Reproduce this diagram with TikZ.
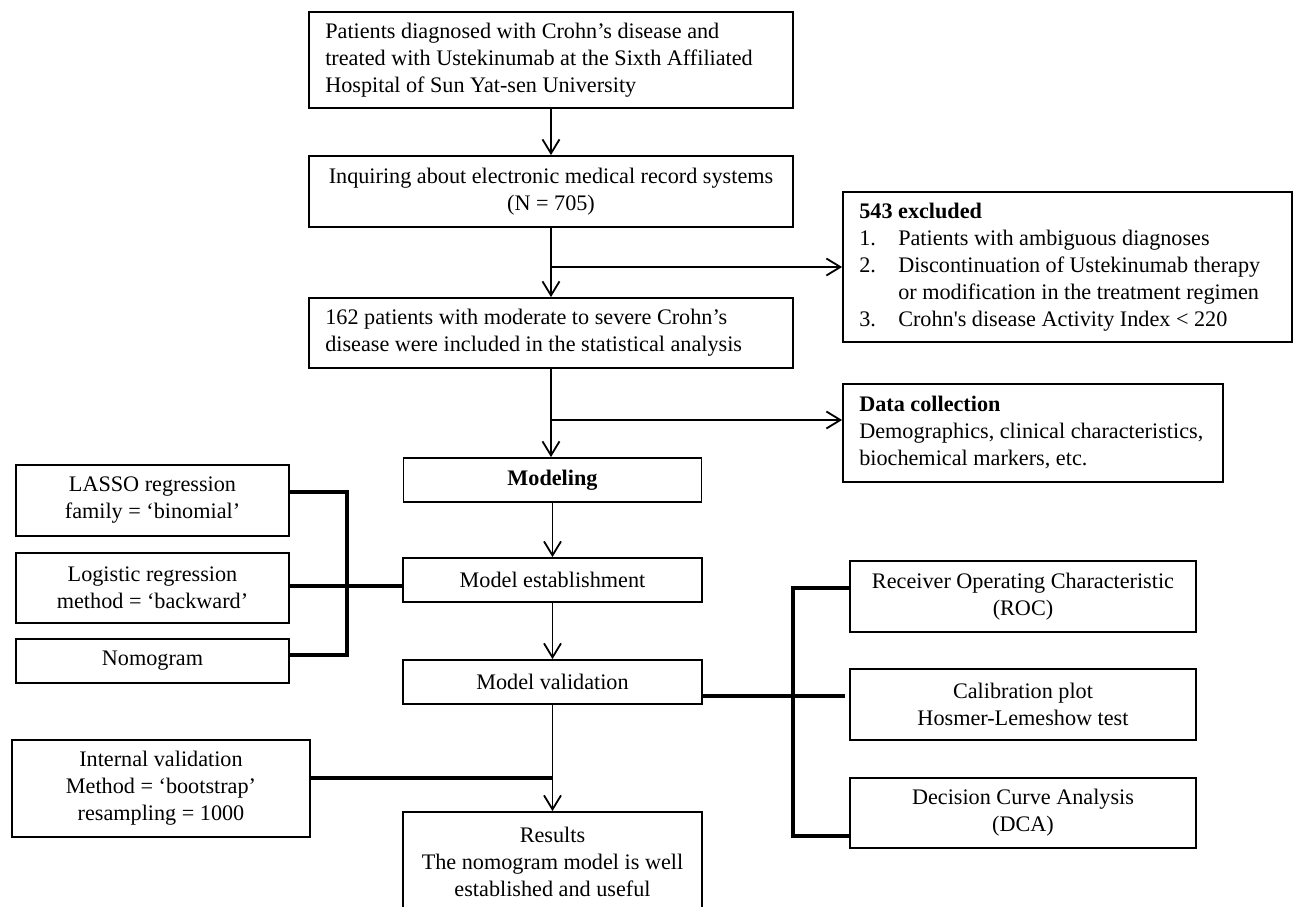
\documentclass[tikz,border=0pt]{standalone}
\usepackage{fontspec}
\setmainfont{Liberation Serif}
\usetikzlibrary{arrows.meta}
\begin{document}
\begin{tikzpicture}[x=1pt,y=-1pt,
  txt/.style={font=\fontsize{22.2}{27}\selectfont, inner sep=0pt},
  box/.style={draw, line width=1.8pt, inner sep=0pt, txt},
  arr/.style={line width=1.8pt, -{Straight Barb[length=14pt,width=17pt]}},
  thk/.style={line width=4pt},
  thn/.style={line width=1.8pt}]
\useasboundingbox (0,0) rectangle (1294,907);
\clip (0,0) rectangle (1294,907);
\fill[white] (0,0) rectangle (1294,907);

% main column
\node[box, minimum width=484pt, minimum height=96pt] (n1) at (551,60) {};
\node[txt, anchor=west, align=left] (n1t) at ([xshift=17pt]n1.west)
  {Patients diagnosed with Crohn’s disease and\\treated with Ustekinumab at the Sixth Affiliated\\Hospital of Sun Yat-sen University};
\node[box, align=center, minimum width=484pt, minimum height=71pt] (n2) at (551,191.5)
  {Inquiring about electronic medical record systems\\(N = 705)};
\node[box, minimum width=484pt, minimum height=70pt] (n3) at (551,333) {};
\node[txt, anchor=west, align=left] (n3t) at ([xshift=17pt]n3.west)
  {162 patients with moderate to severe Crohn’s\\disease were included in the statistical analysis};

% side boxes right (top)
\node[box, minimum width=449pt, minimum height=150pt] (ex) at (1067.5,267) {};
\node[txt, anchor=west, align=left] (ext) at ([xshift=17pt]ex.west)
  {\textbf{543 excluded}\\
   \makebox[39pt][l]{1.}Patients with ambiguous diagnoses\\
   \makebox[39pt][l]{2.}Discontinuation of Ustekinumab therapy\\
   \hspace*{39pt}or modification in the treatment regimen\\
   \makebox[39pt][l]{3.}Crohn\textquotesingle s disease Activity Index < 220};
\node[box, minimum width=380pt, minimum height=98pt] (dc) at (1033,433) {};
\node[txt, anchor=west, align=left] (dct) at ([xshift=17pt]dc.west)
  {\textbf{Data collection}\\Demographics, clinical characteristics,\\biochemical markers, etc.};

% modelling column
\node[box, align=center, minimum width=298pt, minimum height=44pt] (mod) at (552.5,480) {\textbf{Modeling}};
\node[box, align=center, minimum width=299pt, minimum height=44pt] (est) at (552.5,580) {Model establishment};
\node[box, align=center, minimum width=299pt, minimum height=44pt] (val) at (552.5,682) {Model validation};
\node[box, align=center, minimum width=299pt, minimum height=100pt] (res) at (552.5,862)
  {Results\\The nomogram model is well\\established and useful};

% left boxes
\node[box, align=center, minimum width=273pt, minimum height=71pt] (lasso) at (152.5,500.5)
  {LASSO regression\\family = ‘binomial’};
\node[box, align=center, minimum width=273pt, minimum height=70pt] (logit) at (152.5,588)
  {Logistic regression\\method = ‘backward’};
\node[box, align=center, minimum width=273pt, minimum height=44pt] (nomo) at (152.5,661) {Nomogram};
\node[box, align=center, minimum width=298pt, minimum height=97pt] (intv) at (161,788.5)
  {Internal validation\\Method = ‘bootstrap’\\resampling = 1000};

% right boxes
\node[box, align=center, minimum width=346pt, minimum height=71pt] (roc) at (1023,596.5)
  {Receiver Operating Characteristic\\(ROC)};
\node[box, align=center, minimum width=346pt, minimum height=71pt] (cal) at (1023,704.5)
  {Calibration plot\\Hosmer-Lemeshow test};
\node[box, align=center, minimum width=346pt, minimum height=70pt] (dca) at (1023,813)
  {Decision Curve Analysis\\(DCA)};

% coordinates
\coordinate (b1) at (551,267);
\coordinate (b2) at (551,420);
\coordinate (lb1) at (347,492);
\coordinate (lb2) at (347,655);
\coordinate (lg) at (347,586);
\coordinate (rb1) at (793,588);
\coordinate (rb2) at (793,836);
\coordinate (cv) at (845,696);
\coordinate (j) at (552,778);

% main arrows
\draw[arr] (n1.south) -- (n2.north);
\draw[arr] (n2.south) -- (n3.north);
\draw[arr] (b1) -- (ex.west |- b1);
\draw[arr] (n3.south) -- (n3.south |- mod.north);
\draw[arr] (b2) -- (dc.west |- b2);
\draw[arr] (mod.south) -- (est.north);
\draw[arr] (est.south) -- (val.north);
\draw[arr] (val.south) -- (res.north);

% thick connectors
\draw[thk] (lasso.east |- lb1) -- (lb1) -- (lb2) -- (nomo.east |- lb2);
\draw[thk] (logit.east |- lg) -- (est.west |- lg);
\draw[thk] (roc.west |- rb1) -- (rb1) -- (rb2) -- (dca.west |- rb2);
\draw[thk] (val.east |- cv) -- (cv);
\draw[thk] (intv.east |- j) -- (j);
\end{tikzpicture}
\end{document}
